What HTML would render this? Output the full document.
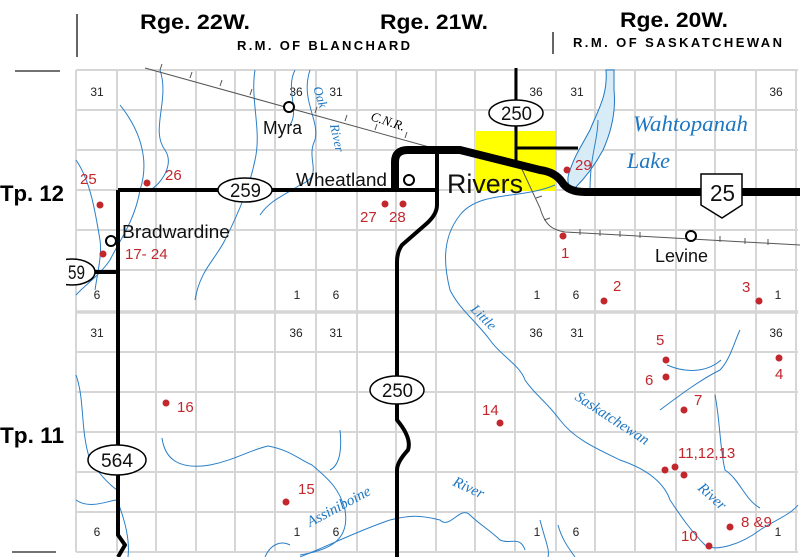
<!DOCTYPE html>
<html><head><meta charset="utf-8"><style>
html,body{margin:0;padding:0;background:#fff;}
svg{display:block;}
.h{font-family:"Liberation Sans",sans-serif;font-weight:bold;}
.n{font-family:"Liberation Sans",sans-serif;font-size:12px;fill:#222;}
.r{font-family:"Liberation Sans",sans-serif;font-size:15px;fill:#c1272d;}
.bl{font-family:"Liberation Serif",serif;font-style:italic;fill:#1f77c2;}
.t{font-family:"Liberation Sans",sans-serif;fill:#111;}
</style></head><body>
<svg width="800" height="557" viewBox="0 0 800 557" xmlns="http://www.w3.org/2000/svg">
<rect width="800" height="557" fill="#fff"/>
<!-- header -->
<line x1="77" y1="14" x2="77" y2="57" stroke="#333" stroke-width="1.5"/>
<line x1="553" y1="32" x2="553" y2="54" stroke="#333" stroke-width="1.5"/>
<text class="h" x="140" y="29" font-size="21" textLength="110" lengthAdjust="spacingAndGlyphs">Rge. 22W.</text>
<text class="h" x="380" y="29" font-size="21" textLength="108" lengthAdjust="spacingAndGlyphs">Rge. 21W.</text>
<text class="h" x="620" y="27" font-size="21" textLength="108" lengthAdjust="spacingAndGlyphs">Rge. 20W.</text>
<text class="h" x="237" y="50" font-size="13" textLength="173" lengthAdjust="spacing">R.M. OF BLANCHARD</text>
<text class="h" x="573" y="47" font-size="13" textLength="209" lengthAdjust="spacing">R.M. OF SASKATCHEWAN</text>
<line x1="15" y1="71" x2="60" y2="71" stroke="#444" stroke-width="1.5"/>
<line x1="12" y1="552" x2="56" y2="552" stroke="#444" stroke-width="1.5"/>
<!-- grid -->
<g stroke="#d6d6d6" stroke-width="2" fill="none">
<path d="M76 70V552M117 70V552M156 70V552M196 70V552M235 70V552M275 70V552M316 70V552M357 70V552M396 70V552M436 70V552M475 70V552M515 70V552M556 70V552M595 70V552M635 70V552M676 70V552M715 70V552M756 70V552M796 70V552"/>
<path d="M76 70H798M76 110H798M76 150H798M76 190H798M76 230H798M76 270H798M76 352H798M76 392H798M76 432H798M76 472H798M76 512H798M76 552H798"/>
<path d="M76 312H798" stroke-width="3.5"/>
</g>
<!-- section numbers -->
<g class="n" text-anchor="middle">
<text x="97" y="96">31</text><text x="296" y="96">36</text><text x="336" y="96">31</text><text x="536" y="96">36</text><text x="577" y="96">31</text><text x="776" y="96">36</text>
<text x="97" y="299">6</text><text x="297" y="299">1</text><text x="336" y="299">6</text><text x="537" y="299">1</text><text x="576" y="299">6</text><text x="778" y="299">1</text>
<text x="97" y="337">31</text><text x="296" y="337">36</text><text x="336" y="337">31</text><text x="536" y="337">36</text><text x="577" y="337">31</text><text x="776" y="337">36</text>
<text x="97" y="536">6</text><text x="297" y="536">1</text><text x="336" y="536">6</text><text x="537" y="536">1</text><text x="576" y="536">6</text><text x="778" y="536">1</text>
</g>
<!-- yellow -->
<rect x="475" y="131" width="80" height="60" fill="#ffff00"/>
<!-- lake -->
<path d="M606 70 C608 95 598 110 590 130 C582 145 575 155 570 170 C566 180 568 190 575 188 C585 178 595 165 603 150 C612 130 616 110 614 90 L614 70 Z" fill="#d8ecf8" stroke="#1f77c2" stroke-width="1"/>
<!-- rivers -->
<g stroke="#2a7fc8" stroke-width="1" fill="none">
<path d="M310 70 C300 100 320 120 315 140 C305 160 325 175 300 185 C285 195 270 200 260 215"/>
<path d="M295 70 C285 90 300 110 290 125"/>
<path d="M255 70 C250 100 262 130 255 160 C250 185 240 210 225 240 C215 260 200 270 195 300"/>
<path d="M120 105 C140 130 150 160 140 190 C135 220 120 240 110 260 C100 275 85 285 76 295"/>
<path d="M76 160 C90 180 95 210 100 240 C102 255 98 270 95 290"/>
<path d="M160 70 C170 100 150 130 165 150 C175 165 160 185 150 190"/>
<path d="M555 185 C520 200 480 190 460 215 C440 240 445 270 450 290 C460 310 475 320 490 340 C500 355 520 365 525 380 C535 395 545 400 560 420 C575 440 600 450 620 460 C650 470 665 485 670 500 C680 515 690 530 705 545 C715 552 740 545 760 530 C775 520 790 515 798 505"/>
<path d="M598 120 C598 140 590 155 590 190" />
<path d="M660 410 C680 395 700 380 720 370 C730 360 735 340 740 330"/>
<path d="M667 365 C690 375 710 370 721 360"/>
<path d="M715 395 C720 420 720 450 725 470 C740 480 745 500 760 508"/>
<path d="M76 500 C90 510 110 500 117 500 C125 520 130 540 128 557"/>
<path d="M76 375 C85 400 80 430 90 460 C100 475 110 485 117 490"/>
<path d="M162 438 C165 460 180 470 210 465 C235 460 250 450 268 446 C290 450 300 460 312 465 C330 480 340 490 345 510 C350 540 330 550 300 555"/>
<path d="M340 430 C342 450 340 465 330 470"/>
<path d="M300 557 C330 545 360 530 390 520 C410 515 420 515 440 520 C450 530 460 505 470 515 C480 525 490 530 500 540 C510 545 520 535 525 550"/>
<path d="M540 520 C545 540 550 550 548 557"/>
<path d="M558 525 C562 540 570 550 575 557"/>
<path d="M265 557 C270 545 280 540 290 545"/>
</g>
<!-- railways -->
<g stroke="#555" stroke-width="1" fill="none">
<path d="M145 68 L440 150"/>
<path d="M520 165 L540 208 C545 225 552 230 565 232 L800 245"/>
<path d="M160 70l2 -6M190 78l2 -6M220 86l2 -6M250 95l2 -6M315 113l2 -6M345 121l2 -6M375 130l2 -6M405 138l2 -6M580 229l0 6M600 230l0 6M620 231l0 6M640 232l0 6M720 236l0 6M745 238l0 6M768 239l0 6M536 198l6 -2M544 220l6 -2"/>
</g>
<!-- roads -->
<g stroke="#000" fill="none" stroke-linejoin="round" stroke-linecap="butt">
<path d="M118 190 V535 L125 545 L118 557" stroke-width="4"/>
<path d="M118 190 H437" stroke-width="4"/>
<path d="M90 272 H118" stroke-width="4"/>
<path d="M395 190 V162 Q395 150 408 150 H460 L540 170 Q555 172 562 182 Q568 192 585 192 H800" stroke-width="8"/>
<path d="M437 150 V205 Q437 215 425 225 L402 245 Q397 252 397 262 V420 Q412 438 408 450 Q397 462 397 470 V557" stroke-width="4"/>
<path d="M516 68 V165 M516 148 H578" stroke-width="3"/>
</g>
<!-- shields -->
<g fill="#fff" stroke="#000" stroke-width="1.5">
<ellipse cx="245" cy="190" rx="27" ry="12"/>
<ellipse cx="516" cy="113" rx="27" ry="13"/>
<ellipse cx="397" cy="390" rx="27" ry="14"/>
<ellipse cx="117" cy="460" rx="29" ry="15"/>
<ellipse cx="72" cy="272" rx="23" ry="13"/>
<path d="M701 174 H742 V205 L722 218 L701 205 Z"/>
</g>
<rect x="0" y="255" width="66" height="34" fill="#fff"/>
<text class="h" x="0" y="201" font-size="22" textLength="64" lengthAdjust="spacingAndGlyphs">Tp. 12</text>
<text class="h" x="0" y="443" font-size="22" textLength="64" lengthAdjust="spacingAndGlyphs">Tp. 11</text>
<g class="t" font-size="19">
<text x="230" y="197" textLength="31" lengthAdjust="spacingAndGlyphs">259</text>
<text x="501" y="120" textLength="31" lengthAdjust="spacingAndGlyphs">250</text>
<text x="382" y="397" textLength="31" lengthAdjust="spacingAndGlyphs">250</text>
<text x="101" y="467" textLength="32" lengthAdjust="spacingAndGlyphs">564</text>
<text x="68" y="279" textLength="17" lengthAdjust="spacingAndGlyphs">59</text>
<text x="710" y="201" font-size="23" textLength="25" lengthAdjust="spacingAndGlyphs">25</text>
</g>
<!-- towns -->
<g fill="#fff" stroke="#000" stroke-width="2">
<circle cx="289" cy="107" r="5"/><circle cx="409" cy="180" r="5"/><circle cx="111" cy="241" r="5"/><circle cx="691" cy="236" r="5"/>
</g>
<g class="t" font-size="18">
<text x="263" y="134" textLength="39" lengthAdjust="spacingAndGlyphs">Myra</text>
<text x="296" y="186" textLength="91" lengthAdjust="spacingAndGlyphs">Wheatland</text>
<text x="122" y="238" textLength="108" lengthAdjust="spacingAndGlyphs">Bradwardine</text>
<text x="655" y="262" textLength="53" lengthAdjust="spacingAndGlyphs">Levine</text>
<text x="447" y="193" font-size="27" textLength="76" lengthAdjust="spacingAndGlyphs">Rivers</text>
</g>
<text x="370" y="120" font-family="Liberation Serif,serif" font-style="italic" font-size="13" transform="rotate(18 370 120)">C.N.R.</text>
<!-- blue labels -->
<text class="bl" x="633" y="131" font-size="22" textLength="115" lengthAdjust="spacingAndGlyphs">Wahtopanah</text>
<text class="bl" x="627" y="168" font-size="22" textLength="43" lengthAdjust="spacingAndGlyphs">Lake</text>
<text class="bl" x="313" y="88" font-size="13" transform="rotate(72 313 88)">Oak</text>
<text class="bl" x="330" y="125" font-size="13" transform="rotate(78 330 125)">River</text>
<text class="bl" x="470" y="310" font-size="14" transform="rotate(45 470 310)">Little</text>
<text class="bl" x="574" y="399" font-size="15" transform="rotate(33 574 399)">Saskatchewan</text>
<text class="bl" x="697" y="489" font-size="15" transform="rotate(42 697 489)">River</text>
<text class="bl" x="310" y="527" font-size="15" transform="rotate(-28 310 527)">Assiniboine</text>
<text class="bl" x="452" y="485" font-size="15" transform="rotate(25 452 485)">River</text>
<!-- red points -->
<g fill="#c1272d">
<circle cx="100" cy="205" r="3.5"/><circle cx="147" cy="183" r="3.5"/><circle cx="103" cy="254" r="3.5"/>
<circle cx="385" cy="204" r="3.5"/><circle cx="403" cy="204" r="3.5"/><circle cx="567" cy="170" r="3.5"/>
<circle cx="563" cy="236" r="3.5"/><circle cx="604" cy="301" r="3.5"/><circle cx="759" cy="301" r="3.5"/>
<circle cx="666" cy="360" r="3.5"/><circle cx="779" cy="358" r="3.5"/><circle cx="666" cy="377" r="3.5"/>
<circle cx="684" cy="410" r="3.5"/><circle cx="166" cy="403" r="3.5"/><circle cx="500" cy="423" r="3.5"/>
<circle cx="665" cy="470" r="3.5"/><circle cx="675" cy="467" r="3.5"/><circle cx="684" cy="475" r="3.5"/>
<circle cx="286" cy="502" r="3.5"/><circle cx="730" cy="527" r="3.5"/><circle cx="709" cy="546" r="3.5"/>
</g>
<g class="r" font-size="16">
<text x="80" y="184">25</text><text x="165" y="180">26</text><text x="125" y="259">17- 24</text>
<text x="360" y="222">27</text><text x="389" y="222">28</text><text x="575" y="170">29</text>
<text x="561" y="258">1</text><text x="613" y="291">2</text><text x="742" y="292">3</text>
<text x="656" y="345">5</text><text x="775" y="379">4</text><text x="645" y="385">6</text>
<text x="694" y="405">7</text><text x="177" y="412">16</text><text x="482" y="415">14</text>
<text x="678" y="458">11,12,13</text><text x="298" y="494">15</text><text x="741" y="527">8 &amp;9</text>
<text x="681" y="541">10</text>
</g>
</svg>
</body></html>
